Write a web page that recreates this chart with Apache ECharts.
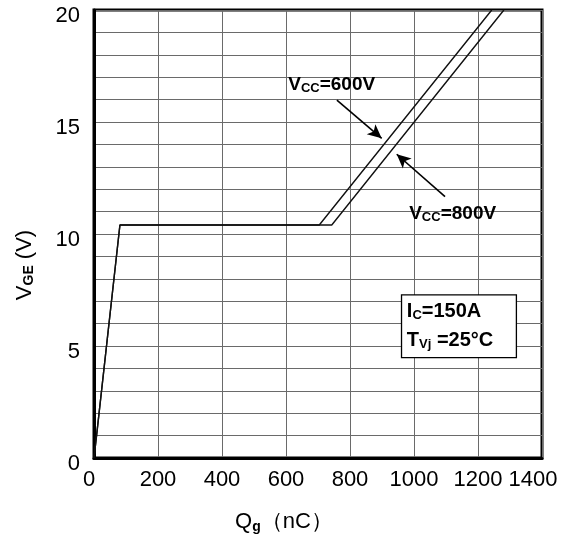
<!DOCTYPE html>
<html>
<head>
<meta charset="utf-8">
<script src="https://cdn.jsdelivr.net/npm/echarts@6/dist/echarts.min.js"></script>
<style>
html,body{margin:0;padding:0;background:#fff;}
#chart{width:563px;height:542px;}
</style>
</head>
<body>
<div id="chart"></div>
<script>
// Data (Qg in nC, VGE in V)
const qg600 = [0, 8, 81, 704, 1243];
const vge600 = [0, 1.0, 10.4, 10.4, 20];
const qg800 = [0, 8, 81, 743, 1281];
const vge800 = [0, 1.0, 10.4, 10.4, 20];
const xTicks = [0, 200, 400, 600, 800, 1000, 1200, 1400];
const yTicks = [0, 5, 10, 15, 20];

// Annotation anchors in data coordinates
const label600At = [607, 16.65];
const arrow600From = [759, 15.98];
const arrow600To = [899, 14.27];
const label800At = [985, 10.9];
const arrow800From = [1097, 11.67];
const arrow800To = [946, 13.56];
const boxFrom = [961, 7.28];
const boxTo = [1320, 4.48];

const toPairs = (xs, ys) => xs.map((x, i) => [x, ys[i]]);
const FONT = '"Liberation Sans", Arial, sans-serif';

const chart = echarts.init(document.getElementById('chart'), null, {renderer: 'canvas'});

const subRich = {
  b: {fontFamily: FONT, fontWeight: 'bold', fontSize: 19, color: '#000'},
  s: {fontFamily: FONT, fontWeight: 'bold', fontSize: 13, color: '#000', padding: [7, 0, 0, 0]}
};

chart.setOption({
  animation: false,
  backgroundColor: '#fff',
  grid: {left: 94, top: 10, width: 448, height: 448, show: true, borderColor: '#000', borderWidth: 3,
         backgroundColor: 'transparent', outerBoundsMode: 'none', containLabel: false},
  xAxis: {
    type: 'value', min: xTicks[0], max: xTicks[xTicks.length - 1], interval: 200,
    axisLine: {show: true, lineStyle: {color: '#000', width: 3}},
    axisTick: {show: false},
    splitLine: {show: true, lineStyle: {color: '#6a6a6a', width: 1}},
    axisLabel: {
      margin: 11,
      formatter: v => v === 0 ? '{z|' + v + '}' : (v === 1400 ? '{e|' + v + '}' : '{n|' + v + '}'),
      rich: {
        n: {fontFamily: FONT, fontSize: 22, color: '#000'},
        z: {fontFamily: FONT, fontSize: 22, color: '#000', padding: [0, 10, 0, 0]},
        e: {fontFamily: FONT, fontSize: 22, color: '#000', padding: [0, 18, 0, 0]}
      }
    },
    name: 'Q{s|g}（nC）',
    nameLocation: 'middle',
    nameGap: 52,
    nameTextStyle: {
      fontFamily: FONT, fontSize: 22, color: '#000', padding: [0, 68, 0, 0],
      rich: {s: {fontFamily: FONT, fontSize: 14, fontWeight: 'bold', color: '#000', padding: [10, 0, 0, 0]}}
    }
  },
  yAxis: {
    type: 'value', min: yTicks[0], max: yTicks[yTicks.length - 1], interval: 5,
    axisLine: {show: true, lineStyle: {color: '#000', width: 3}},
    axisTick: {show: false},
    splitLine: {show: true, lineStyle: {color: '#6a6a6a', width: 1}},
    minorTick: {show: false, splitNumber: 5},
    minorSplitLine: {show: true, lineStyle: {color: '#6a6a6a', width: 1}},
    axisLabel: {
      margin: 14,
      formatter: v => '{a|' + v + '}',
      rich: {a: {fontFamily: FONT, fontSize: 22, color: '#000', padding: [12, 0, 0, 0]}}
    },
    name: 'V{s|GE} (V)',
    nameLocation: 'middle',
    nameGap: 58,
    nameRotate: 90,
    nameTextStyle: {
      fontFamily: FONT, fontSize: 22, color: '#000', padding: [0, 62, 0, 0],
      rich: {s: {fontFamily: FONT, fontSize: 14, fontWeight: 'bold', color: '#000', padding: [9, 0, 0, 0]}}
    }
  },
  series: [
    {
      name: '600V', type: 'line', data: toPairs(qg600, vge600), showSymbol: false,
      lineStyle: {color: '#111', width: 1.4}, z: 5,
      markPoint: {
        symbol: 'circle', symbolSize: 0,
        data: [{coord: label600At, value: 0}],
        label: {show: true, position: 'right', distance: 0, formatter: '{b|V}{s|CC}{b|=600V}', rich: subRich}
      },
      markLine: {
        silent: true, symbol: ['none', 'arrow'], symbolSize: [10, 14],
        lineStyle: {color: '#000', width: 1.6, type: 'solid'},
        label: {show: false},
        data: [[{coord: arrow600From}, {coord: arrow600To}]]
      }
    },
    {
      name: '800V', type: 'line', data: toPairs(qg800, vge800), showSymbol: false,
      lineStyle: {color: '#111', width: 1.4}, z: 5,
      markPoint: {
        symbol: 'circle', symbolSize: 0,
        data: [{coord: label800At, value: 0}],
        label: {show: true, position: 'right', distance: 0, formatter: '{b|V}{s|CC}{b|=800V}', rich: subRich}
      },
      markLine: {
        silent: true, symbol: ['none', 'arrow'], symbolSize: [10, 14],
        lineStyle: {color: '#000', width: 1.6, type: 'solid'},
        label: {show: false},
        data: [[{coord: arrow800From}, {coord: arrow800To}]]
      },
      markArea: {
        silent: true,
        itemStyle: {color: '#fff', borderColor: '#000', borderWidth: 1.3},
        label: {
          show: true, position: 'insideTopLeft', distance: 0, padding: [3, 0, 0, 6],
          lineHeight: 29,
          formatter: '{b|I}{s|C}{b|=150A}\n{b|T}{s|Vj}{b| =25°C}',
          rich: {
            b: {fontFamily: FONT, fontWeight: 'bold', fontSize: 20, color: '#000', lineHeight: 29},
            s: {fontFamily: FONT, fontWeight: 'bold', fontSize: 13, color: '#000', lineHeight: 29, padding: [7, 0, 0, 0]}
          }
        },
        data: [[{coord: boxFrom}, {coord: boxTo}]]
      }
    }
  ]
});
</script>
</body>
</html>
